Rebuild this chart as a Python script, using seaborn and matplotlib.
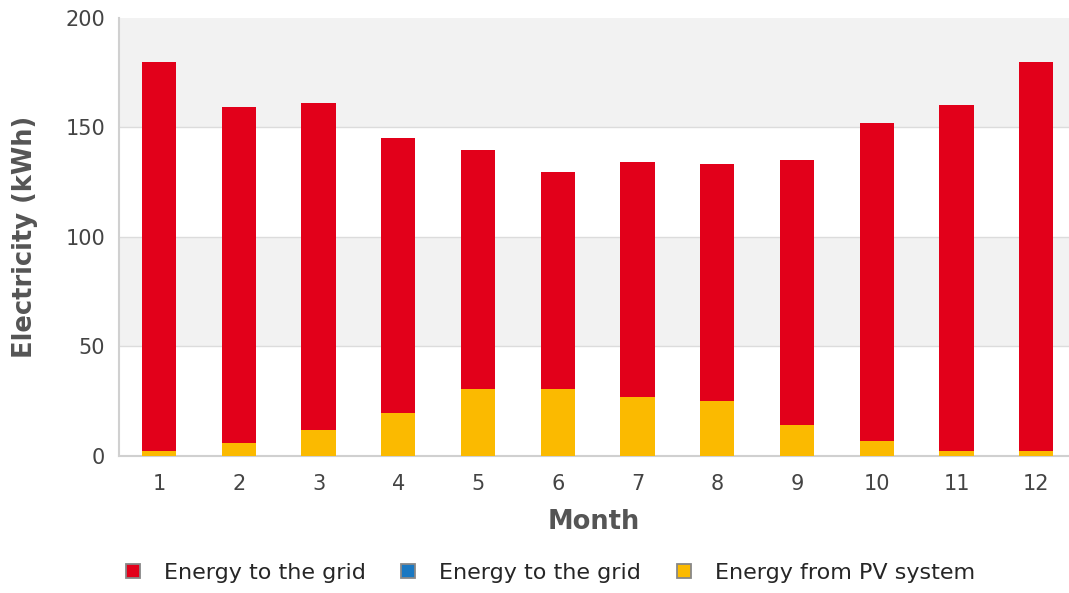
import matplotlib
matplotlib.use("Agg")
import matplotlib.pyplot as plt
import seaborn as sns
import pandas as pd
from matplotlib.lines import Line2D

months = [str(m) for m in range(1, 13)]
total = [180, 159.5, 161, 145, 139.5, 129.5, 134, 133.5, 135, 152, 160, 180]
pv = [2.3, 6, 12, 19.5, 30.5, 30.5, 27, 25, 14, 7, 2.3, 2.3]
grid_blue = [0] * 12
grid_red = [t - p for t, p in zip(total, pv)]
legend_labels = ["Energy to the grid", "Energy to the grid", "Energy from PV system"]

RED = "#e2001a"
BLUE = "#1a78c2"
YEL = "#fbba00"

df = pd.DataFrame({"Month": months, "total": total, "pv": pv, "red": grid_red})

sns.set_theme(style="white")
plt.rcParams["font.family"] = ["DejaVu Sans"]

fig = plt.figure(figsize=(10.69, 5.93), dpi=100)
ax = fig.add_axes([0.1115, 0.231, 0.8885, 0.739])

# background bands
for lo, hi in [(50, 100), (150, 200)]:
    ax.axhspan(lo, hi, color="#f2f2f2", zorder=0, lw=0)
for y in [50, 100, 150]:
    ax.axhline(y, color="#dcdcdc", lw=1.0, zorder=0.5)

sns.barplot(data=df, x="Month", y="total", color=RED, width=0.43,
            saturation=1, ax=ax, zorder=2, edgecolor="none")
sns.barplot(data=df, x="Month", y="pv", color=YEL, width=0.43,
            saturation=1, ax=ax, zorder=3, edgecolor="none")

ax.set_ylim(0, 200)
ax.set_xlim(-0.5, 11.41)
ax.set_yticks([0, 50, 100, 150, 200])
ax.tick_params(axis="both", length=0, labelsize=15, labelcolor="#444444")
ax.tick_params(axis="x", pad=13)
ax.tick_params(axis="y", pad=10)
ax.set_xlabel("Month", fontsize=18.5, fontweight="bold", color="#555555", labelpad=11)
ax.set_ylabel("Electricity (kWh)", fontsize=18.5, fontweight="bold", color="#555555", labelpad=20)

for s in ["top", "right"]:
    ax.spines[s].set_visible(False)
for s in ["left", "bottom"]:
    ax.spines[s].set_color("#d0d0d0")
    ax.spines[s].set_linewidth(1.5)

handles = [Line2D([], [], marker="s", ls="none", markersize=10.5, markerfacecolor=c,
                  markeredgecolor="#888888", markeredgewidth=1.3)
           for c in [RED, BLUE, YEL]]
fig.legend(handles, legend_labels, loc="center", bbox_to_anchor=(0.513, 0.034),
           ncol=3, frameon=False, fontsize=16, handlelength=1.0, handletextpad=0.9,
           columnspacing=1.4)

fig.savefig("out.png", dpi=100)
